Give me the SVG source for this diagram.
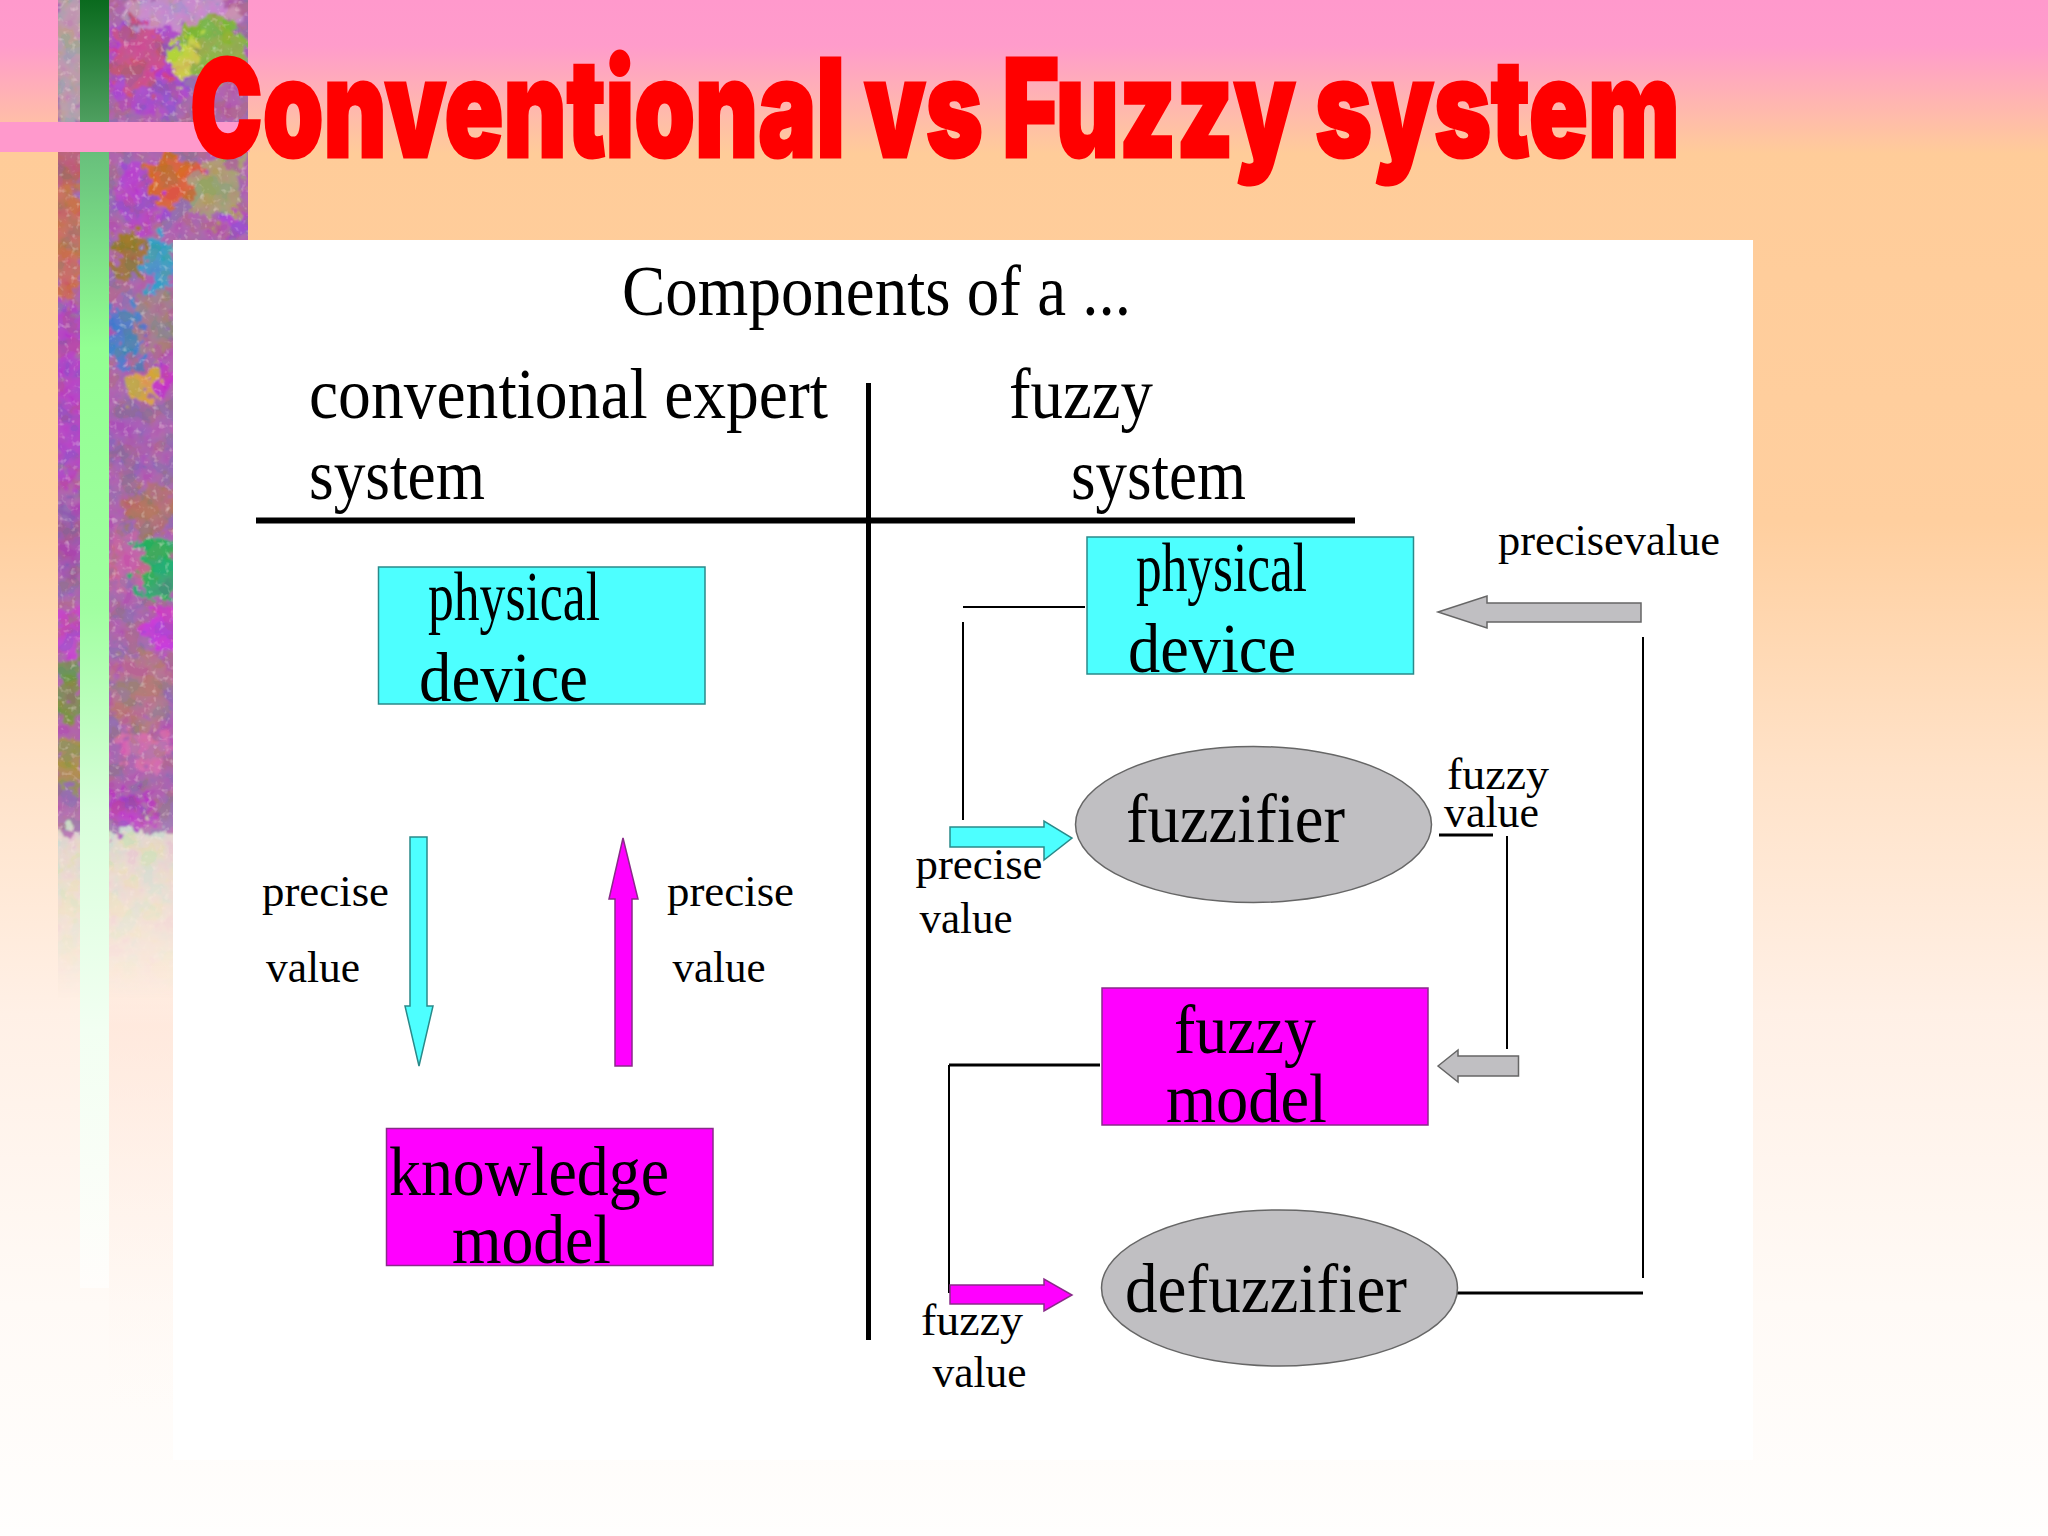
<svg xmlns="http://www.w3.org/2000/svg" width="2048" height="1536" viewBox="0 0 2048 1536">
<style>
text{font-family:"Liberation Serif","Times New Roman",serif;fill:#000}
.h{font-size:71px}
.n{font-size:70px}
.s{font-size:44px}
.line{stroke:#000;stroke-width:2;fill:none}
.line2{stroke:#000;stroke-width:3;fill:none}
.cy{fill:#4dffff;stroke:#2a8a8a;stroke-width:1.5}
.mg{fill:#ff00ff;stroke:#8a2a8a;stroke-width:1.5}
.gr{fill:#c0bfc2;stroke:#666;stroke-width:1.5}
</style>
<defs>
<linearGradient id="bg" x1="0" y1="0" x2="0" y2="1">
<stop offset="0" stop-color="#ff99cc"/><stop offset="0.03" stop-color="#ff9ccb"/><stop offset="0.1" stop-color="#ffcc99"/><stop offset="0.34" stop-color="#ffcf9f"/><stop offset="0.5" stop-color="#ffe2c8"/><stop offset="0.66" stop-color="#fff0e6"/><stop offset="0.85" stop-color="#fffaf6"/><stop offset="1" stop-color="#fffefd"/>
</linearGradient>
<linearGradient id="green" x1="0" y1="0" x2="0" y2="1288" gradientUnits="userSpaceOnUse">
<stop offset="0" stop-color="#0a6a1e"/><stop offset="0.095" stop-color="#4f9f60"/><stop offset="0.12" stop-color="#68c07c"/><stop offset="0.27" stop-color="#92ff92"/><stop offset="0.47" stop-color="#a0ffa0"/><stop offset="0.63" stop-color="#d8ffda"/><stop offset="0.8" stop-color="#f2fff2"/><stop offset="1" stop-color="#fffdfb"/>
</linearGradient>
<linearGradient id="fade" x1="0" y1="0" x2="0" y2="1000" gradientUnits="userSpaceOnUse">
<stop offset="0.8" stop-color="#fff"/><stop offset="0.85" stop-color="#bbb"/><stop offset="0.9" stop-color="#777"/><stop offset="0.96" stop-color="#333"/><stop offset="1" stop-color="#000"/>
</linearGradient>
<mask id="texfade" maskUnits="userSpaceOnUse" x="0" y="0" width="300" height="1010"><rect width="300" height="1010" fill="url(#fade)"/></mask>
<linearGradient id="tint" x1="0" y1="0" x2="0" y2="1"><stop offset="0" stop-color="#ffe2d4" stop-opacity="0"/><stop offset="0.15" stop-color="#ffe2d4" stop-opacity="0.5"/><stop offset="1" stop-color="#fff4ee" stop-opacity="0"/></linearGradient>
<filter id="rough" x="-5%" y="-5%" width="110%" height="110%"><feTurbulence type="fractalNoise" baseFrequency="0.08" numOctaves="4" seed="7"/><feDisplacementMap in="SourceGraphic" scale="42" xChannelSelector="R" yChannelSelector="G"/><feGaussianBlur stdDeviation="0.9"/></filter>
<filter id="grain" x="0" y="0" width="100%" height="100%"><feTurbulence type="fractalNoise" baseFrequency="0.17" numOctaves="2" seed="3"/><feColorMatrix type="matrix" values="0 0 0 0 1  0 0 0 0 .9  0 0 0 0 .85  2.6 0 0 0 -1.5"/></filter>
<filter id="tone" x="0" y="0" width="100%" height="100%"><feTurbulence type="fractalNoise" baseFrequency="0.05" numOctaves="3" seed="11"/><feColorMatrix type="saturate" values="4"/><feColorMatrix type="matrix" values="1 0 0 0 0  0 1 0 0 0  0 0 1 0 0  0 0 0 0 1"/></filter>
<clipPath id="texclip"><path d="M58 0H248V240H173V1000H58Z"/></clipPath>
</defs>

<rect id="background" width="2048" height="1536" fill="url(#bg)"/>
<rect x="109" y="960" width="64" height="450" fill="url(#tint)"/>

<g id="texture" clip-path="url(#texclip)" mask="url(#texfade)">
<g filter="url(#rough)">
<rect x="20" y="-30" width="260" height="900" fill="#a860a8"/>
<rect x="20" y="830" width="260" height="200" fill="#dcd8cc"/>
<ellipse cx="70" cy="60" rx="20" ry="70" fill="#b99aa8"/>
<ellipse cx="68" cy="160" rx="20" ry="30" fill="#b85a70"/>
<ellipse cx="66" cy="240" rx="20" ry="60" fill="#c46a58"/>
<ellipse cx="68" cy="350" rx="18" ry="50" fill="#b040c0"/>
<ellipse cx="150" cy="60" rx="44" ry="60" fill="#a845c8"/>
<ellipse cx="138" cy="58" rx="28" ry="34" fill="#c84888"/>
<ellipse cx="180" cy="10" rx="60" ry="18" fill="#c48ac8"/>
<ellipse cx="212" cy="48" rx="36" ry="30" fill="#8cb03c"/>
<ellipse cx="185" cy="60" rx="14" ry="24" fill="#c8d040"/>
<ellipse cx="140" cy="195" rx="26" ry="36" fill="#b040c8"/>
<ellipse cx="175" cy="180" rx="30" ry="24" fill="#d8602e"/>
<ellipse cx="218" cy="190" rx="28" ry="30" fill="#a89a70"/>
<ellipse cx="238" cy="225" rx="12" ry="14" fill="#b040d0"/>
<ellipse cx="160" cy="265" rx="14" ry="30" fill="#3a98c8"/>
<ellipse cx="128" cy="255" rx="18" ry="24" fill="#a07030"/>
<ellipse cx="125" cy="335" rx="20" ry="30" fill="#4878c8"/>
<ellipse cx="155" cy="320" rx="18" ry="34" fill="#a07a88"/>
<ellipse cx="150" cy="385" rx="22" ry="16" fill="#d8a040"/>
<ellipse cx="165" cy="380" rx="10" ry="18" fill="#c030c0"/>
<ellipse cx="70" cy="430" rx="18" ry="60" fill="#b040c0"/>
<ellipse cx="130" cy="440" rx="24" ry="40" fill="#a05ab0"/>
<ellipse cx="150" cy="510" rx="26" ry="26" fill="#b06a70"/>
<ellipse cx="70" cy="540" rx="16" ry="40" fill="#a050a8"/>
<ellipse cx="155" cy="570" rx="26" ry="30" fill="#2aa868"/>
<ellipse cx="125" cy="560" rx="18" ry="30" fill="#c060a0"/>
<ellipse cx="165" cy="630" rx="20" ry="24" fill="#c830d8"/>
<ellipse cx="68" cy="630" rx="16" ry="26" fill="#c040c8"/>
<ellipse cx="70" cy="690" rx="16" ry="32" fill="#7a8a50"/>
<ellipse cx="140" cy="690" rx="32" ry="40" fill="#b07088"/>
<ellipse cx="70" cy="765" rx="16" ry="28" fill="#a88a50"/>
<ellipse cx="145" cy="750" rx="30" ry="18" fill="#d068a8"/>
<ellipse cx="130" cy="810" rx="22" ry="22" fill="#b030c0"/>
</g>
<rect x="50" y="0" width="210" height="1000" filter="url(#tone)" opacity="0.1"/>
<rect x="50" y="0" width="210" height="1000" filter="url(#grain)" opacity="0.45"/>
</g>

<rect id="green-bar" x="80" y="0" width="29" height="1288" fill="url(#green)"/>
<rect id="pink-bar" x="0" y="122" width="250" height="30" fill="#ff99cc"/>
<rect id="panel" x="173" y="240" width="1580" height="1220" fill="#fff"/>

<text id="title" transform="translate(190 157) scale(0.72 1)" textLength="2069" lengthAdjust="spacingAndGlyphs" style="font-family:Inter,'Liberation Sans',Arial,sans-serif;font-weight:900;font-size:136px;fill:#f00;stroke:#f00;stroke-width:3">Conventional vs Fuzzy system</text>

<g id="headings">
<text class="h" x="622" y="315" textLength="509" lengthAdjust="spacingAndGlyphs">Components of a ...</text>
<text class="h" x="309" y="418" textLength="519" lengthAdjust="spacingAndGlyphs">conventional expert</text>
<text class="h" x="309" y="499" textLength="176" lengthAdjust="spacingAndGlyphs">system</text>
<text class="h" x="1009" y="418" textLength="144" lengthAdjust="spacingAndGlyphs">fuzzy</text>
<text class="h" x="1071" y="499" textLength="175" lengthAdjust="spacingAndGlyphs">system</text>
</g>

<g id="connectors">
<path d="M868.500 383V1340" stroke="#000" stroke-width="5" fill="none"/>
<path d="M256 520.500H1355" stroke="#000" stroke-width="6" fill="none"/>
<path class="line" d="M963 607H1085"/>
<path class="line" d="M963 622V820"/>
<path class="line" d="M1643 637V1278"/>
<path class="line2" d="M1454 1293H1643"/>
<path class="line2" d="M1439 835H1493"/>
<path class="line" d="M1507 836V1049"/>
<path class="line2" d="M949 1065H1100"/>
<path class="line" d="M949 1065V1293"/>
<path class="cy" d="M410 837H427V1006H433L419 1066L405 1006H410Z"/>
<path class="mg" d="M623 838L638 899H632V1066H615V899H609Z"/>
<path class="gr" d="M1438 612L1487 596V603H1641V622H1487V628Z"/>
<path class="gr" d="M1438 1066L1458 1050V1056H1518.500V1076H1458V1082Z"/>
<path class="cy" d="M950 827H1044V821L1072 838L1044 860V847H950Z"/>
<path class="mg" d="M950 1285H1044V1279L1072 1295L1044 1311V1304H950Z"/>
</g>

<g id="left-physical-device">
<rect class="cy" x="378.500" y="567" width="326.500" height="137"/>
<text class="n" x="428" y="620" textLength="172" lengthAdjust="spacingAndGlyphs">physical</text>
<text class="n" x="419" y="701" textLength="169" lengthAdjust="spacingAndGlyphs">device</text>
</g>
<g id="knowledge-model">
<rect class="mg" x="386.500" y="1128.500" width="326.500" height="137"/>
<text class="n" x="389" y="1195" textLength="280" lengthAdjust="spacingAndGlyphs">knowledge</text>
<text class="n" x="452" y="1263" textLength="159" lengthAdjust="spacingAndGlyphs">model</text>
</g>
<g id="right-physical-device">
<rect class="cy" x="1087" y="537" width="326.500" height="137"/>
<text class="n" x="1136" y="591" textLength="171" lengthAdjust="spacingAndGlyphs">physical</text>
<text class="n" x="1128" y="672" textLength="168" lengthAdjust="spacingAndGlyphs">device</text>
</g>
<g id="fuzzifier">
<ellipse class="gr" cx="1253.500" cy="824.500" rx="178" ry="78"/>
<text class="n" x="1126" y="842" textLength="219" lengthAdjust="spacingAndGlyphs">fuzzifier</text>
</g>
<g id="fuzzy-model">
<rect class="mg" x="1102" y="988" width="326" height="137"/>
<text class="n" x="1174" y="1053" textLength="142" lengthAdjust="spacingAndGlyphs">fuzzy</text>
<text class="n" x="1166" y="1122" textLength="161" lengthAdjust="spacingAndGlyphs">model</text>
</g>
<g id="defuzzifier">
<ellipse class="gr" cx="1279.500" cy="1288" rx="178" ry="78"/>
<text class="n" x="1125" y="1312" textLength="282" lengthAdjust="spacingAndGlyphs">defuzzifier</text>
</g>

<g id="labels">
<text class="s" x="262" y="906" textLength="127" lengthAdjust="spacingAndGlyphs">precise</text>
<text class="s" x="266" y="982" textLength="94" lengthAdjust="spacingAndGlyphs">value</text>
<text class="s" x="667" y="906" textLength="127" lengthAdjust="spacingAndGlyphs">precise</text>
<text class="s" x="672.500" y="982" textLength="93" lengthAdjust="spacingAndGlyphs">value</text>
<text class="s" x="1498" y="555" textLength="222" lengthAdjust="spacingAndGlyphs">precisevalue</text>
<text class="s" x="1447" y="789" textLength="102" lengthAdjust="spacingAndGlyphs">fuzzy</text>
<text class="s" x="1444" y="827" textLength="95" lengthAdjust="spacingAndGlyphs">value</text>
<text class="s" x="915.500" y="879" textLength="127" lengthAdjust="spacingAndGlyphs">precise</text>
<text class="s" x="919.500" y="933" textLength="93" lengthAdjust="spacingAndGlyphs">value</text>
<text class="s" x="921" y="1335" textLength="102" lengthAdjust="spacingAndGlyphs">fuzzy</text>
<text class="s" x="932.500" y="1387" textLength="94" lengthAdjust="spacingAndGlyphs">value</text>
</g>
</svg>
